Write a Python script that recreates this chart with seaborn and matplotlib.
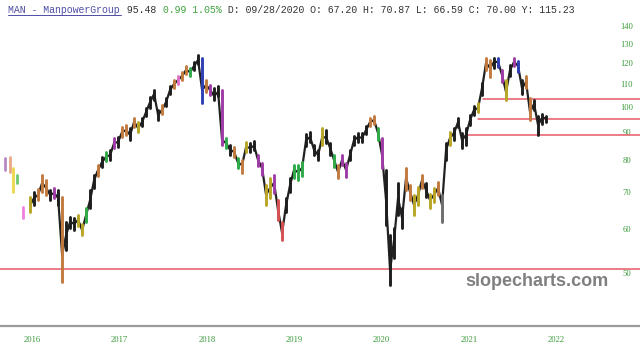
import numpy as np
import pandas as pd
import matplotlib
matplotlib.use("Agg")
import matplotlib.pyplot as plt
import matplotlib.transforms as mtransforms
from matplotlib.lines import Line2D
from matplotlib.ticker import NullLocator, FixedLocator, FixedFormatter
import seaborn as sns

# ---------------- data ----------------
close = [66.4, 68.4, 69.3, 72.8, 71.3, 69.3, 69.8, 68.4, 53.9, 58.6,
         61.9, 61.4, 62.4, 59.8, 63.7, 67.8, 73.7, 76.9, 79.5, 81.2,
         81.8, 86.0, 86.4, 90.1, 90.8, 89.0, 93.9, 91.6, 93.9, 97.9,
         102.1, 105.6, 96.7, 98.8, 102.1, 107.4, 110.1, 111.9, 113.8, 116.7,
         115.7, 118.7, 121.7, 107.4, 109.6, 107.4, 104.7, 106.5, 87.1, 86.0,
         83.6, 82.9, 79.2, 78.5, 84.6, 84.3, 85.0, 80.1, 77.5, 69.3,
         71.3, 72.8, 65.0, 59.1, 66.4, 72.2, 76.9, 76.2, 77.5, 87.1,
         88.2, 83.6, 81.8, 87.9, 88.2, 84.3, 80.1, 76.2, 80.1, 76.9,
         81.8, 87.1, 88.2, 87.9, 90.8, 93.9, 94.7, 89.7, 81.8, 67.8,
         50.6, 57.4, 68.4, 62.9, 74.3, 70.1, 66.4, 69.3, 73.7, 70.7,
         67.8, 69.3, 71.3, 66.4, 83.6, 87.9, 89.7, 93.9, 87.1, 89.0,
         94.7, 98.8, 99.6, 108.2, 120.2, 117.7, 120.7, 120.7, 114.3, 106.5,
         116.7, 120.7, 118.7, 108.2, 111.0, 97.9, 101.3, 92.8, 95.5, 95.5]
high = [68.7, 70.1, 71.0, 75.3, 73.7, 70.7, 71.3, 70.7, 68.7, 61.9,
        63.2, 62.9, 63.7, 61.4, 65.6, 70.7, 75.3, 78.5, 81.2, 82.9,
        83.6, 87.9, 88.2, 92.0, 92.8, 91.6, 95.5, 93.9, 95.5, 99.6,
        104.3, 107.4, 98.8, 100.8, 103.8, 109.2, 111.9, 113.8, 115.7, 118.7,
        117.7, 120.7, 124.2, 122.7, 111.9, 109.6, 108.2, 109.2, 107.4, 87.9,
        85.3, 84.6, 80.8, 80.1, 86.4, 86.0, 86.8, 81.8, 79.2, 72.2,
        74.3, 75.3, 67.8, 61.9, 68.4, 74.3, 78.5, 78.5, 79.5, 89.3,
        90.1, 85.3, 83.6, 91.6, 90.8, 86.0, 81.8, 78.5, 81.8, 79.2,
        83.6, 88.6, 89.7, 89.7, 92.4, 95.5, 96.3, 91.6, 87.9, 76.9,
        58.6, 60.3, 72.8, 65.6, 77.5, 72.2, 69.3, 71.6, 75.3, 72.8,
        69.5, 71.3, 73.1, 69.3, 86.0, 90.1, 91.6, 95.5, 89.7, 91.6,
        96.7, 100.4, 101.7, 110.5, 122.7, 121.7, 122.7, 122.7, 116.7, 111.9,
        119.2, 122.7, 121.2, 111.9, 113.8, 103.8, 103.0, 96.3, 97.1, 96.3]
low = [64.5, 66.4, 67.8, 70.1, 69.3, 67.8, 68.4, 66.4, 48.2, 55.0,
       60.3, 59.8, 60.8, 58.6, 61.9, 65.6, 71.3, 75.0, 77.8, 79.8,
       80.1, 84.3, 84.6, 88.2, 89.0, 87.1, 92.0, 90.1, 92.4, 96.3,
       99.6, 103.0, 94.7, 97.1, 100.4, 105.6, 108.2, 110.1, 111.9, 114.8,
       113.8, 116.7, 119.7, 101.7, 106.5, 105.1, 103.0, 104.7, 85.3, 84.3,
       81.8, 81.2, 77.5, 75.9, 82.9, 82.9, 83.6, 78.2, 75.3, 66.4,
       68.4, 69.8, 62.4, 57.4, 64.5, 70.1, 74.3, 73.7, 75.0, 85.0,
       86.4, 81.8, 80.1, 85.3, 86.0, 81.8, 77.8, 74.3, 78.5, 74.7,
       80.1, 85.3, 86.4, 86.4, 89.3, 92.4, 93.1, 87.1, 77.5, 61.1,
       47.6, 53.2, 63.7, 60.3, 70.7, 67.8, 63.7, 66.4, 71.3, 68.7,
       65.6, 67.3, 69.3, 61.9, 80.1, 85.3, 87.1, 92.0, 84.3, 85.3,
       92.8, 96.7, 97.9, 105.1, 116.7, 113.3, 117.7, 118.2, 111.0, 103.0,
       113.8, 118.7, 115.7, 105.6, 108.2, 94.7, 98.8, 89.0, 93.1, 93.9]
bar_color = list("ykoookpkok"
                 "kkyygkkokg"
                 "kpkookoykk"
                 "kkkokkonoo"
                 "gkkbopkkpg"
                 "kogoykkppy"
                 "yprrkkgggk"
                 "kkkykkgopp"
                 "kkkkkoogpk"
                 "kkkkooyyok"
                 "yyoakykkkk"
                 "kkykookbpy"
                 "kpbkookkkk")
first_date, last_date = "2016-02-16", "2022-01-13"

early_dates = ["2015-11-03", "2015-11-23", "2015-12-06", "2015-12-23", "2016-01-17"]
early_high = [80.8, 81.2, 77.5, 75.3, 65.9]
early_low = [76.9, 76.2, 70.1, 72.8, 62.9]
early_color = ["lp", "lo", "ly", "lg", "ln"]

levels = [50.8, 89.0, 95.1, 103.4]
level_start = ["2015-10-13", "2021-02-16", "2021-04-03", "2021-04-24"]
level_end = "2023-02-10"

years = [2016, 2017, 2018, 2019, 2020, 2021, 2022]
yticks = [50, 60, 70, 80, 90, 100, 110, 120, 130, 140]

header = [("MAN - ManpowerGroup", "#4d4da6"), (" 95.48", "#333333"),
          (" 0.99 1.05%", "#3fa33f"),
          (" D: 09/28/2020 O: 67.20 H: 70.87 L: 66.59 C: 70.00 Y: 115.23", "#333333")]

palette = {"k": "#1e1e1e", "o": "#c27a3e", "y": "#b9a526", "p": "#a03ca6",
           "g": "#2faa4a", "b": "#2f3fb5", "n": "#e070c8", "r": "#d85050",
           "a": "#6e6e6e", "lp": "#b58ac4", "lo": "#e8a888", "ly": "#ecd64a",
           "lg": "#6cc86c", "ln": "#f27ee2"}

# ---------------- figure ----------------
sns.set_style("white")
W, H = 640, 358
fig = plt.figure(figsize=(W / 100, H / 100), dpi=100)
ax = fig.add_axes([0, (H - 326) / H, 1, (326 - 20) / H])

dates = pd.date_range(first_date, last_date, periods=len(close))
n = len(close)
bars = pd.DataFrame({
    "date": np.repeat(dates, 2),
    "price": np.column_stack([low, high]).ravel(),
    "bar": np.repeat(np.arange(n), 2),
    "grp": np.repeat(bar_color, 2),
})
edates = pd.to_datetime(early_dates)
ebars = pd.DataFrame({
    "date": np.repeat(edates, 2),
    "price": np.column_stack([early_low, early_high]).ravel(),
    "bar": np.repeat(np.arange(len(early_dates)) + 1000, 2),
    "grp": np.repeat(early_color, 2),
})

# reference level lines
xmax = pd.Timestamp(level_end)
lv = pd.DataFrame({
    "date": pd.to_datetime(list(level_start) + [level_end] * len(levels)),
    "price": levels + levels,
    "lvl": list(range(len(levels))) * 2,
})
sns.lineplot(data=lv, x="date", y="price", units="lvl", estimator=None,
             color="#e65a68", lw=1.1, ax=ax, sort=False)

sns.lineplot(x=dates, y=close, color="#222222", lw=1.6, ax=ax, estimator=None)
sns.lineplot(data=bars, x="date", y="price", units="bar", estimator=None,
             hue="grp", palette=palette, legend=False, lw=2.1, ax=ax, sort=False)
sns.lineplot(data=ebars, x="date", y="price", units="bar", estimator=None,
             hue="grp", palette=palette, legend=False, lw=2.0, ax=ax, sort=False)

ax.set_yscale("log")
ax.set_ylim(40.07, 143.8)
ax.set_xlim(pd.Timestamp("2015-10-13"), xmax)
ax.set_xlabel("")
ax.set_ylabel("")

# y ticks, right side, drawn inside (centred near x = 627 px)
ax.yaxis.set_major_locator(FixedLocator(yticks))
ax.yaxis.set_major_formatter(FixedFormatter([str(v) for v in yticks]))
ax.yaxis.set_minor_locator(NullLocator())
ax.yaxis.tick_right()
ax.tick_params(axis="y", which="both", length=0, pad=-9.4, labelsize=6.2,
               labelcolor="#3a9a3a", labelright=True, labelleft=False)
for lab in ax.get_yticklabels():
    lab.set_fontfamily("Liberation Serif")
    lab.set_horizontalalignment("center")

# x ticks
ax.set_xticks(pd.to_datetime([f"{y}-01-01" for y in years]))
ax.set_xticklabels([str(y) for y in years])
ax.tick_params(axis="x", length=0, pad=7.5, labelsize=6.2, labelcolor="#3a9a3a")
off = mtransforms.ScaledTranslation(13 / 100, 0, fig.dpi_scale_trans)
for lab in ax.get_xticklabels():
    lab.set_fontfamily("Liberation Serif")
    lab.set_transform(lab.get_transform() + off)

for s in ["top", "left", "right"]:
    ax.spines[s].set_visible(False)
ax.spines["bottom"].set_color("#9a9a9a")
ax.spines["bottom"].set_linewidth(1.6)
ax.grid(False)

# header
fs = 7.15
cw = 0.6 * fs * 100 / 72
pos = 0
for txt, col in header:
    fig.text((8 + pos * cw) / W, 1 - 10 / H, txt, fontfamily="Liberation Mono",
             fontsize=fs, color=col, va="center", ha="left")
    pos += len(txt)
fig.add_artist(Line2D([8 / W, (8 + 19 * cw) / W], [1 - 15 / H, 1 - 15 / H],
                      color="#4d4da6", lw=0.7, transform=fig.transFigure))

# watermark
fig.text(465 / W, 1 - 282 / H, "slopecharts.com", fontfamily="Liberation Sans",
         fontweight="bold", fontsize=13, color="#808080", va="center", ha="left")

fig.savefig("out.png", dpi=100)
